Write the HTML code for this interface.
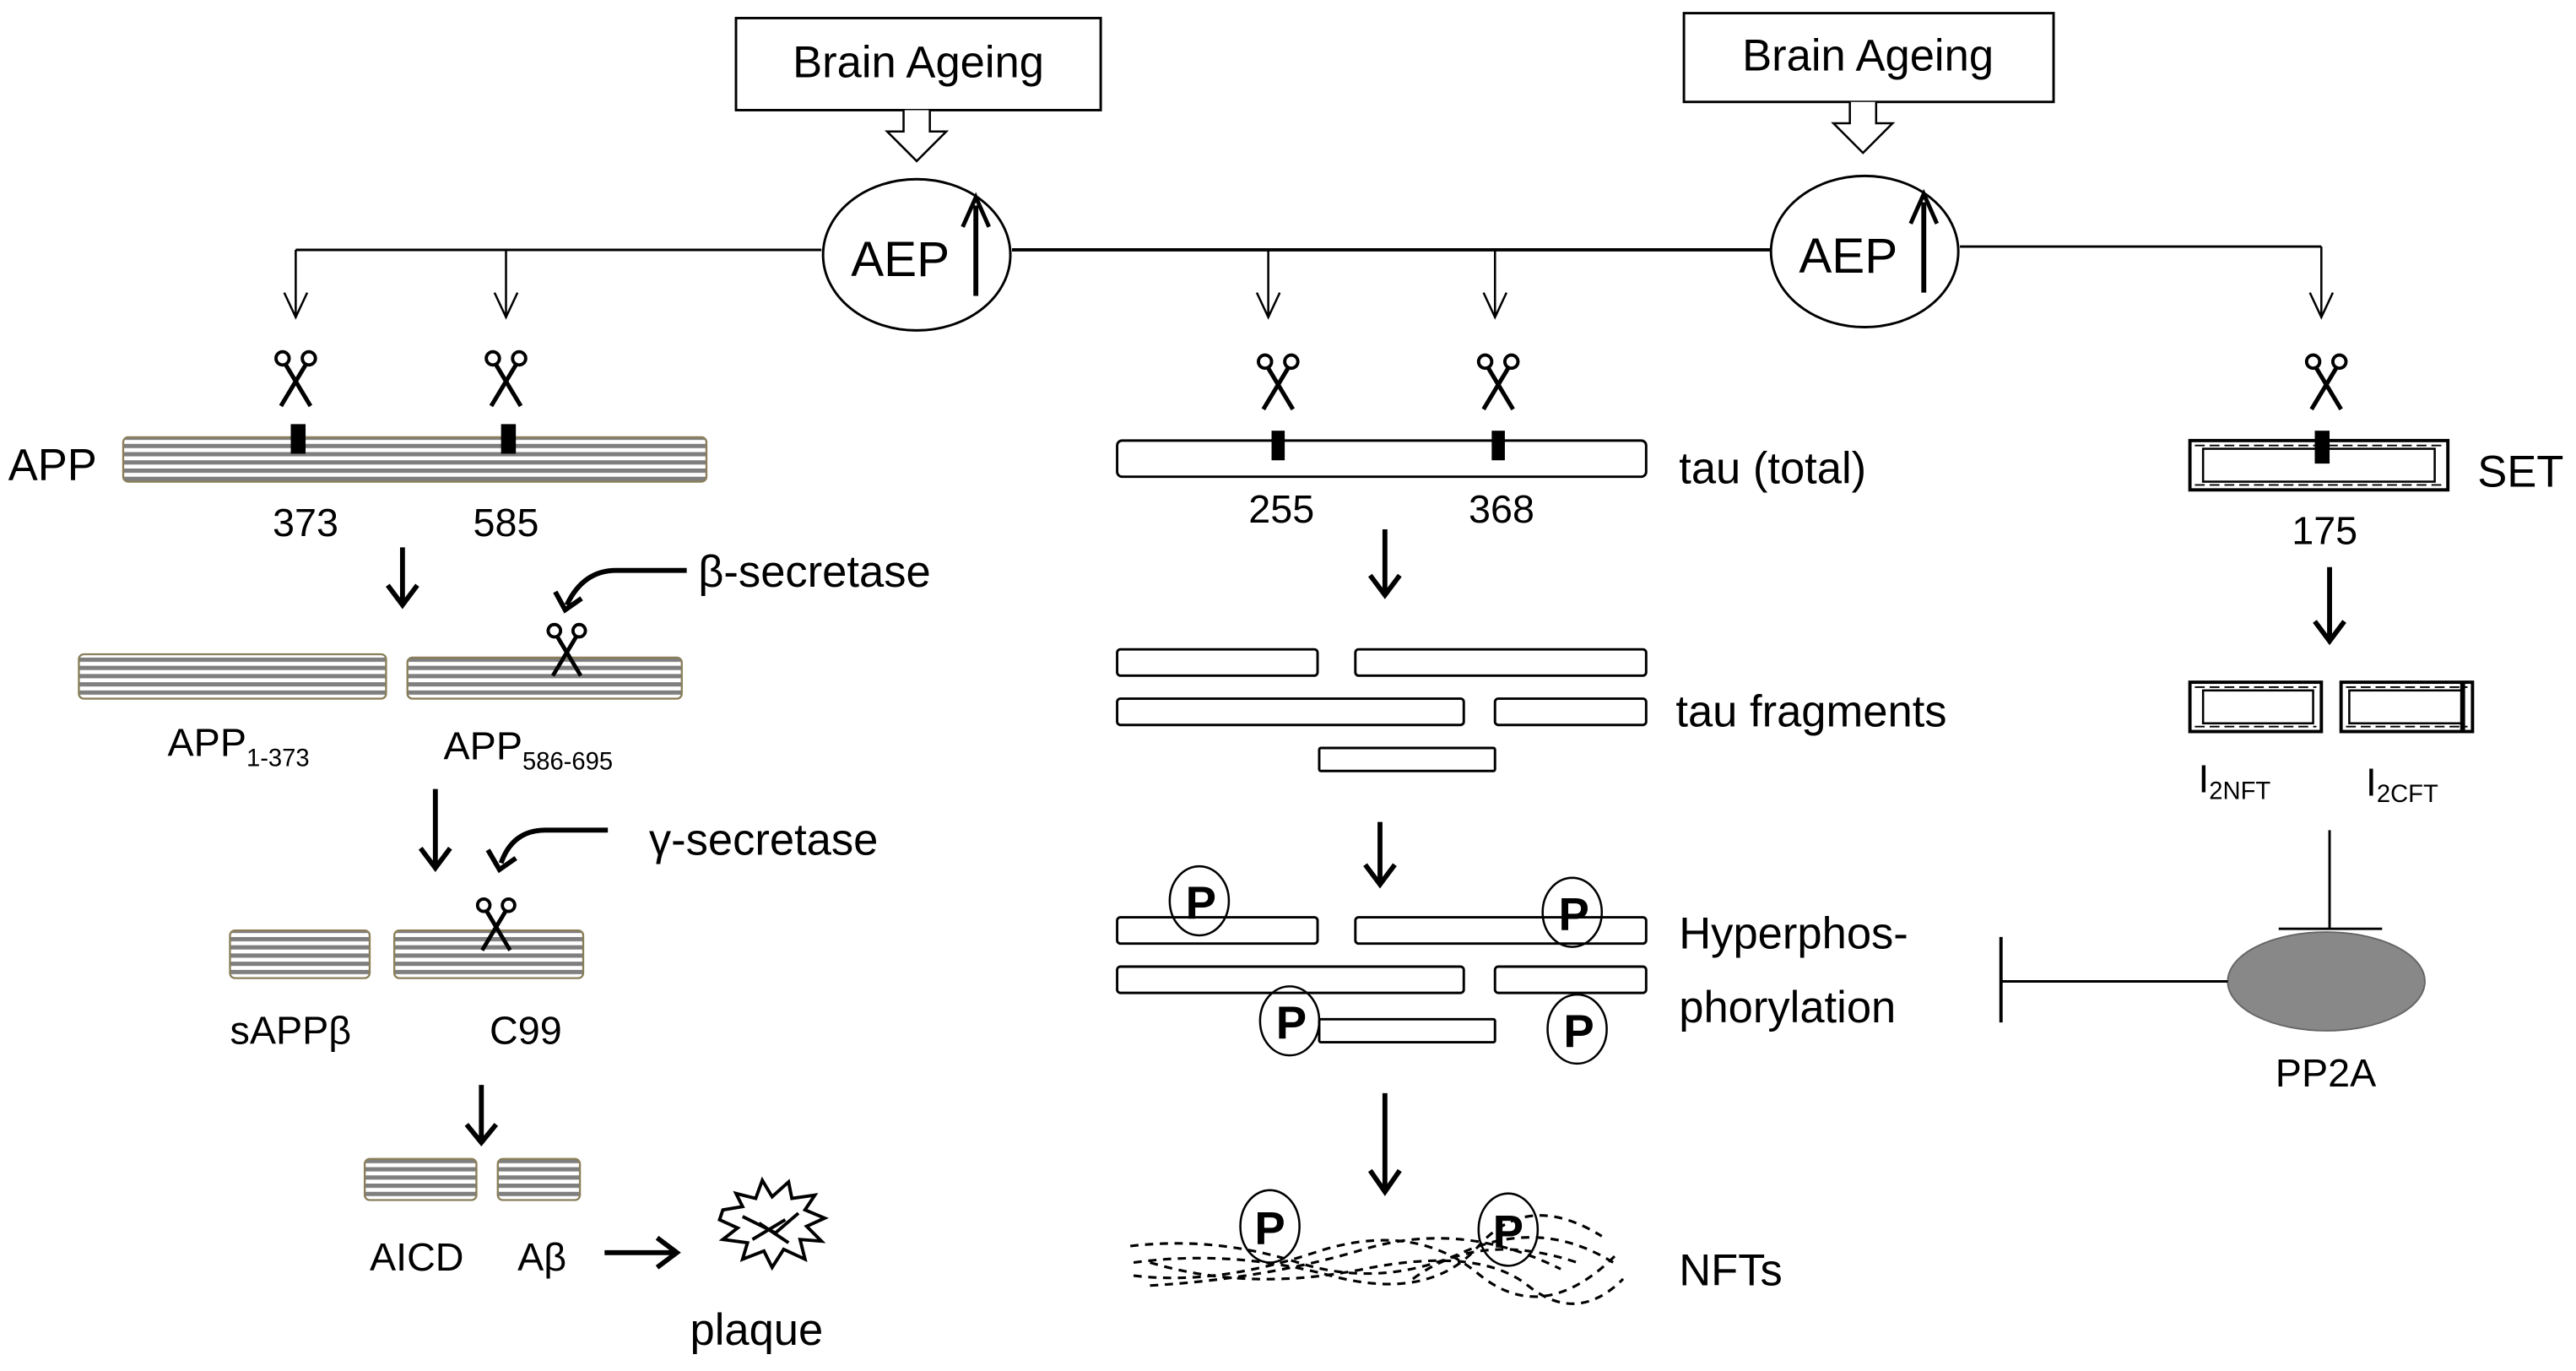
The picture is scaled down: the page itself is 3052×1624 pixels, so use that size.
<!DOCTYPE html>
<html><head><meta charset="utf-8"><style>
html,body{margin:0;padding:0;background:#fff;}
svg{display:block;}
text{font-family:"Liberation Sans",sans-serif;fill:#000;}
</style></head><body>
<svg width="3052" height="1624" viewBox="0 0 1568 834" preserveAspectRatio="none" xmlns="http://www.w3.org/2000/svg">
<defs>
<pattern id="st" width="10" height="5" patternUnits="userSpaceOnUse" y="0">
<rect width="10" height="5" fill="#fff"/><rect y="0" width="10" height="2.6" fill="#7f7f7f"/>
</pattern>
<symbol id="sc" viewBox="-14 -18 28 36" overflow="visible">
<line x1="-9" y1="17" x2="6" y2="-8" stroke="#000" stroke-width="2.6"/>
<line x1="9" y1="17" x2="-6" y2="-8" stroke="#000" stroke-width="2.6"/>
<circle cx="-8" cy="-12" r="4" fill="none" stroke="#000" stroke-width="2"/>
<circle cx="8" cy="-12" r="4" fill="none" stroke="#000" stroke-width="2"/>
</symbol>
</defs>

<!-- Brain Ageing boxes -->
<rect x="448" y="11" width="222" height="56" fill="#fff" stroke="#000" stroke-width="1.5"/>
<text x="559" y="47" font-size="27" text-anchor="middle">Brain Ageing</text>
<path d="M550 67 V80 H540 L558 98 L576 80 H566 V67" fill="#fff" stroke="#000" stroke-width="1.3"/>
<rect x="1025" y="8" width="225" height="54" fill="#fff" stroke="#000" stroke-width="1.5"/>
<text x="1137" y="43" font-size="27" text-anchor="middle">Brain Ageing</text>
<path d="M1126 62 V75 H1116 L1134 93 L1152 75 H1142 V62" fill="#fff" stroke="#000" stroke-width="1.3"/>

<!-- main line -->
<line x1="180" y1="152" x2="500" y2="152" stroke="#000" stroke-width="1.5"/>
<line x1="616" y1="152" x2="1078" y2="152" stroke="#000" stroke-width="2"/>
<line x1="1193" y1="150" x2="1413" y2="150" stroke="#000" stroke-width="1.5"/>
<line x1="1413" y1="150" x2="1413" y2="193" stroke="#000" stroke-width="1.3"/>

<ellipse cx="558" cy="155" rx="57" ry="46" fill="#fff" stroke="#000" stroke-width="1.5"/>
<text x="548" y="168" font-size="30" text-anchor="middle">AEP</text>
<line x1="594" y1="180" x2="594" y2="125" stroke="#000" stroke-width="3"/>
<path d="M586 138 L594 120 L602 138" fill="none" stroke="#000" stroke-width="2.5"/>
<ellipse cx="1135" cy="153" rx="57" ry="46" fill="#fff" stroke="#000" stroke-width="1.5"/>
<text x="1125" y="166" font-size="30" text-anchor="middle">AEP</text>
<line x1="1171" y1="178" x2="1171" y2="123" stroke="#000" stroke-width="3"/>
<path d="M1163 136 L1171 118 L1179 136" fill="none" stroke="#000" stroke-width="2.5"/>

<!-- thin open arrows -->
<g stroke="#000" stroke-width="1.3" fill="none">
<path d="M180 152 V193 M173 178 L180 193 L187 178"/>
<path d="M308 152 V193 M301 178 L308 193 L315 178"/>
<path d="M772 152 V193 M765 178 L772 193 L779 178"/>
<path d="M910 152 V193 M903 178 L910 193 L917 178"/>
<path d="M1406 178 L1413 193 L1420 178"/>
</g>

<!-- scissors -->
<use href="#sc" x="166" y="212" width="28" height="36"/>
<use href="#sc" x="294" y="212" width="28" height="36"/>
<use href="#sc" x="764" y="214" width="28" height="36"/>
<use href="#sc" x="898" y="214" width="28" height="36"/>
<use href="#sc" x="1402" y="214" width="28" height="36"/>
<use href="#sc" x="331" y="378" width="28" height="34"/>
<use href="#sc" x="288" y="545" width="28" height="34"/>

<!-- APP -->
<text x="5" y="292" font-size="27">APP</text>
<rect x="75" y="266" width="355" height="27" rx="3" fill="url(#st)" stroke="#8a7f5a" stroke-width="1.2"/>
<rect x="177" y="258" width="9" height="18" fill="#000"/>
<rect x="305" y="258" width="9" height="18" fill="#000"/>
<text x="186" y="326" font-size="24" text-anchor="middle">373</text>
<text x="308" y="326" font-size="24" text-anchor="middle">585</text>

<!-- bold arrows -->
<g stroke="#000" stroke-width="3" fill="none">
<path d="M245 333 V368 M236 356 L245 368 L254 356"/>
<path d="M265 480 V528 M256 516 L265 528 L274 516"/>
<path d="M293 660 V695 M284 684 L293 695 L302 684"/>
<path d="M843 322 V362 M834 350 L843 362 L852 350"/>
<path d="M840 500 V538 M831 526 L840 538 L849 526"/>
<path d="M843 665 V725 M834 712 L843 725 L852 712"/>
<path d="M1418 345 V390 M1409 378 L1418 390 L1427 378"/>
<path d="M368 762 H410 M400 753 L412 762 L400 771"/>
<path d="M418 347 H375 Q355 347 345 368 M338 360 L344 371 L354 364"/>
<path d="M370 505 H332 Q312 505 305 525 M297 517 L304 529 L314 522"/>
</g>
<text x="425" y="357" font-size="27">β-secretase</text>
<text x="395" y="520" font-size="27">γ-secretase</text>

<rect x="48" y="398" width="187" height="27" rx="3" fill="url(#st)" stroke="#8a7f5a" stroke-width="1.2"/>
<rect x="248" y="400" width="167" height="25" rx="3" fill="url(#st)" stroke="#8a7f5a" stroke-width="1.2"/>
<use href="#sc" x="331" y="378" width="28" height="34"/>
<text x="102" y="460" font-size="24">APP<tspan font-size="15" dy="6">1-373</tspan></text>
<text x="270" y="462" font-size="24">APP<tspan font-size="15" dy="6">586-695</tspan></text>

<rect x="140" y="566" width="85" height="29" rx="3" fill="url(#st)" stroke="#8a7f5a" stroke-width="1.2"/>
<rect x="240" y="566" width="115" height="29" rx="3" fill="url(#st)" stroke="#8a7f5a" stroke-width="1.2"/>
<use href="#sc" x="288" y="545" width="28" height="34"/>
<text x="140" y="635" font-size="24">sAPPβ</text>
<text x="298" y="635" font-size="24">C99</text>

<rect x="222" y="705" width="68" height="25" rx="3" fill="url(#st)" stroke="#8a7f5a" stroke-width="1.2"/>
<rect x="303" y="705" width="50" height="25" rx="3" fill="url(#st)" stroke="#8a7f5a" stroke-width="1.2"/>
<text x="225" y="773" font-size="24">AICD</text>
<text x="315" y="773" font-size="24">Aβ</text>
<path d="M440 736 L452 734 L448 726 L460 729 L464 718 L470 728 L480 719 L482 729 L496 727 L490 736 L502 741 L491 746 L500 755 L487 754 L490 766 L477 760 L470 771 L465 761 L452 766 L455 756 L440 754 L449 747 L438 742 Z M452 740 L472 750 L486 738 M458 754 L478 742 M462 744 L480 756" fill="#fff" stroke="#000" stroke-width="2"/>
<text x="420" y="818" font-size="27">plaque</text>

<!-- tau -->
<rect x="680" y="268" width="322" height="22" rx="3" fill="#fff" stroke="#000" stroke-width="1.5"/>
<rect x="774" y="262" width="8" height="18" fill="#000"/>
<rect x="908" y="262" width="8" height="18" fill="#000"/>
<text x="780" y="318" font-size="24" text-anchor="middle">255</text>
<text x="914" y="318" font-size="24" text-anchor="middle">368</text>
<text x="1022" y="294" font-size="27">tau (total)</text>

<g fill="#fff" stroke="#000" stroke-width="1.5">
<rect x="680" y="395" width="122" height="16" rx="2"/>
<rect x="825" y="395" width="177" height="16" rx="2"/>
<rect x="680" y="425" width="211" height="16" rx="2"/>
<rect x="910" y="425" width="92" height="16" rx="2"/>
<rect x="803" y="455" width="107" height="14" rx="1"/>
<rect x="680" y="558" width="122" height="16" rx="2"/>
<rect x="825" y="558" width="177" height="16" rx="2"/>
<rect x="680" y="588" width="211" height="16" rx="2"/>
<rect x="910" y="588" width="92" height="16" rx="2"/>
<rect x="803" y="620" width="107" height="14" rx="1"/>
</g>
<text x="1020" y="442" font-size="27">tau fragments</text>
<g fill="none" stroke="#000" stroke-width="1.3">
<ellipse cx="730" cy="548" rx="18" ry="21"/>
<ellipse cx="957" cy="555" rx="18" ry="21"/>
<ellipse cx="785" cy="621" rx="18" ry="21"/>
<ellipse cx="960" cy="626" rx="18" ry="21"/>
</g>
<g font-size="28" font-weight="bold" text-anchor="middle">
<text x="731" y="559">P</text>
<text x="958" y="566">P</text>
<text x="786" y="632">P</text>
<text x="961" y="637">P</text>
</g>
<text x="1022" y="577" font-size="27">Hyperphos-</text>
<text x="1022" y="622" font-size="27">phorylation</text>

<!-- NFTs -->
<g fill="none" stroke="#000" stroke-width="1.6" stroke-dasharray="5 4">
<path d="M688 758 Q740 752 790 768 T890 762 T985 770"/>
<path d="M690 776 Q740 782 800 762 T900 775 T985 762"/>
<path d="M700 768 Q760 786 830 772 T930 782 T988 778"/>
<path d="M690 768 Q750 760 810 776 T900 758 T975 752"/>
<path d="M700 782 Q770 778 830 760 T950 772"/>
<path d="M860 778 Q900 748 960 768"/>
</g>
<ellipse cx="773" cy="746" rx="18" ry="22" fill="#fff" fill-opacity="0" stroke="#000" stroke-width="1.3"/>
<ellipse cx="918" cy="748" rx="18" ry="22" fill="none" stroke="#000" stroke-width="1.3"/>
<text x="773" y="757" font-size="28" font-weight="bold" text-anchor="middle">P</text>
<text x="918" y="759" font-size="28" font-weight="bold" text-anchor="middle">P</text>
<text x="1022" y="782" font-size="27">NFTs</text>

<!-- SET -->
<rect x="1333" y="268" width="157" height="30" fill="#fff" stroke="#000" stroke-width="2"/>
<rect x="1341" y="273" width="141" height="20" fill="none" stroke="#000" stroke-width="1.3"/>
<line x1="1336" y1="271" x2="1488" y2="271" stroke="#000" stroke-width="1" stroke-dasharray="6 3"/>
<line x1="1336" y1="295" x2="1488" y2="295" stroke="#000" stroke-width="1" stroke-dasharray="6 3"/>
<rect x="1409" y="262" width="9" height="20" fill="#000"/>
<text x="1508" y="296" font-size="27">SET</text>
<text x="1415" y="331" font-size="24" text-anchor="middle">175</text>

<rect x="1333" y="415" width="80" height="30" fill="#fff" stroke="#000" stroke-width="2"/>
<rect x="1341" y="420" width="67" height="20" fill="none" stroke="#000" stroke-width="1.3"/>
<rect x="1425" y="415" width="80" height="30" fill="#fff" stroke="#000" stroke-width="2"/>
<rect x="1430" y="420" width="69" height="20" fill="none" stroke="#000" stroke-width="1.3"/>
<line x1="1499" y1="416" x2="1499" y2="444" stroke="#000" stroke-width="3"/>
<line x1="1336" y1="418" x2="1410" y2="418" stroke="#000" stroke-width="1" stroke-dasharray="6 3"/>
<line x1="1336" y1="442" x2="1410" y2="442" stroke="#000" stroke-width="1" stroke-dasharray="6 3"/>
<line x1="1428" y1="418" x2="1502" y2="418" stroke="#000" stroke-width="1" stroke-dasharray="6 3"/>
<line x1="1428" y1="442" x2="1502" y2="442" stroke="#000" stroke-width="1" stroke-dasharray="6 3"/>
<text x="1338" y="482" font-size="24">I<tspan font-size="15" dy="4">2NFT</tspan></text>
<text x="1440" y="484" font-size="24">I<tspan font-size="15" dy="4">2CFT</tspan></text>

<line x1="1418" y1="505" x2="1418" y2="565" stroke="#000" stroke-width="1.5"/>
<line x1="1387" y1="565" x2="1450" y2="565" stroke="#000" stroke-width="1.5"/>
<ellipse cx="1416" cy="597" rx="60" ry="30" fill="#888" stroke="#666" stroke-width="1"/>
<text x="1385" y="661" font-size="24">PP2A</text>
<line x1="1356" y1="597" x2="1218" y2="597" stroke="#000" stroke-width="1.5"/>
<line x1="1218" y1="570" x2="1218" y2="622" stroke="#000" stroke-width="2"/>
</svg>
</body></html>
